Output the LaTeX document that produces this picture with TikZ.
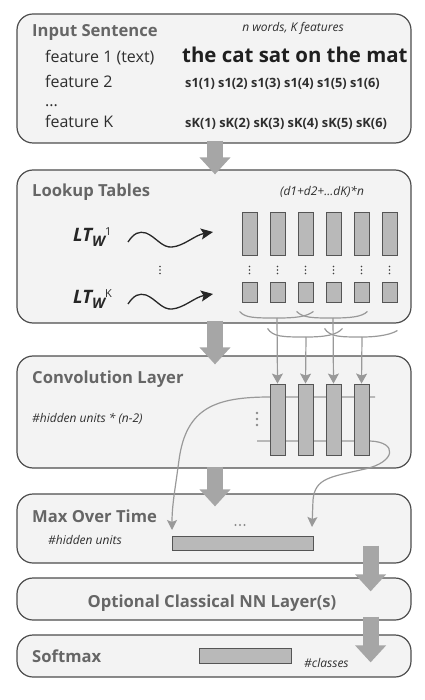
\documentclass[tikz,border=0pt]{standalone}
\usepackage{fontspec}
\setmainfont{Open Sans}
\usetikzlibrary{arrows.meta,calc}

\definecolor{boxfill}{HTML}{F3F3F3}
\definecolor{boxdraw}{HTML}{4D4D4D}
\definecolor{titlegray}{HTML}{666666}
\definecolor{textdark}{HTML}{2E2E2E}
\definecolor{cellfill}{HTML}{B9B9B9}
\definecolor{celldraw}{HTML}{555555}
\definecolor{arrowgray}{HTML}{A6A6A6}
\definecolor{linkgray}{HTML}{999999}

\newcommand{\fs}[1]{\fontsize{#1}{#1}\selectfont}

\begin{document}
\begin{tikzpicture}[x=1pt,y=-1pt,
  layer/.style={draw=boxdraw, fill=boxfill, line width=1.2pt, rounded corners=16pt,
    minimum width=394pt, inner sep=0pt},
  title/.style={font=\bfseries\fs{16.6}, text=titlegray, inner sep=0pt, anchor=base west},
  feat/.style={font=\fs{16}, text=textdark, inner sep=0pt, anchor=base west},
  note/.style={font=\itshape\fs{12}, text=textdark, inner sep=0pt},
  seq/.style={font=\bfseries\fs{12.8}, text=textdark, inner sep=0pt, anchor=base west},
  cell/.style={draw=celldraw, fill=cellfill, line width=0.9pt, minimum width=15pt, inner sep=0pt},
  vec/.style={draw=celldraw, fill=cellfill, line width=0.9pt, inner sep=0pt},
  bigarrow/.style={draw=arrowgray, line width=16pt, -{Triangle[width=30pt,length=17pt]}},
  link/.style={draw=linkgray, line width=1.2pt},
  feed/.style={link, -{Stealth[length=10pt,width=11pt,inset=2pt]}},
  wave/.style={draw=black!85, line width=1.3pt, -{Stealth[length=12pt,width=11pt,inset=2.5pt]}},
  lt/.style={font=\bfseries\itshape\fs{18.5}, text=black!85, inner sep=0pt, anchor=base west}
]
\useasboundingbox (0,0) rectangle (424,700);

% ---------- layer boxes ----------
\node[layer, minimum height=129pt] (input)  at (214,78.5) {};
\node[layer, minimum height=153pt] (lookup) at (214,246.5) {};
\node[layer, minimum height=112pt] (conv)   at (214,412) {};
\node[layer, minimum height=69pt]  (maxt)   at (214,528.5) {};
\node[layer, minimum height=42pt]  (nnl)    at (214,599) {};
\node[layer, minimum height=42pt]  (soft)   at (214,656) {};

% ---------- input sentence ----------
\node[title] (tin) at (32,37) {Input Sentence};
\node[note, anchor=base] (nin) at (293,32) {n words, K features};
\node[feat] (f1) at (45,63) {feature 1 (text)};
\node[feat] (f2) at (45,88) {feature 2};
\node[feat] (fd) at (45,107) {...};
\node[feat] (fk) at (45,128) {feature K};
\node[font=\bfseries\fs{20.4}, text=black!88, inner sep=0pt, anchor=base west] (sent) at (182,63)
  {the cat sat on the mat};
\node[seq] (s1) at (185,88) {s1(1) s1(2) s1(3) s1(4) s1(5) s1(6)};
\node[seq] (sk) at (185,128) {sK(1) sK(2) sK(3) sK(4) sK(5) sK(6)};

% ---------- lookup tables ----------
\node[title] (tlu) at (32,197) {Lookup Tables};
\node[note, anchor=base] (nlu) at (322,196) {(d1+d2+...dK)*n};

\node[lt] (lt1) at (73,242) {LT\raisebox{-5pt}{\fs{14.5}W}\raisebox{6pt}{\normalfont\fs{11}1}};
\node[lt] (ltk) at (73,303) {LT\raisebox{-5pt}{\fs{14.5}W}\raisebox{6pt}{\normalfont\fs{11}K}};

\coordinate (w1s) at (128,242);
\coordinate (w1e) at (213,232);
\coordinate (wks) at (128,304);
\coordinate (wke) at (213,294);
\draw[wave] (w1s) .. controls (134,233) and (139,231) .. (146,233)
  .. controls (156,237) and (162,248) .. (172,247)
  .. controls (184,246) and (195,235) .. (w1e);
\draw[wave] (wks) .. controls (134,295) and (139,293) .. (146,295)
  .. controls (156,299) and (162,310) .. (172,309)
  .. controls (184,308) and (195,297) .. (wke);

\foreach \y in {266.5,270,273.5} \fill[black!75] (160,\y) circle (0.9pt);

\foreach \i/\x in {1/249.5,2/277.5,3/305.5,4/333.5,5/361.5,6/389.5} {
  \node[cell, minimum height=43pt] (t\i) at (\x,233.5) {};
  \node[cell, minimum height=20pt] (b\i) at (\x,292) {};
  \foreach \y in {266.5,270,273.5} \fill[black!75] (\x,\y) circle (0.9pt);
}

% windows of three columns feeding the convolution
\coordinate (ba) at (277,318);
\coordinate (bb) at (333,318);
\coordinate (bc) at (306,337);
\coordinate (bd) at (362,337);
\draw[link] ($(b1.south west)+(-2,9)$) .. controls (245,318) and (255,318) .. (ba)
  .. controls (295,318) and (306,317) .. ($(b3.south east)+(0,9)$);
\draw[link] ($(b3.south west)+(-1,9)$) .. controls (303,318) and (313,318) .. (bb)
  .. controls (350,318) and (362,317) .. ($(b5.south east)+(-2,9)$);
\draw[link] ($(b2.south west)+(-2,26)$) .. controls (273,337) and (283,337) .. (bc)
  .. controls (325,337) and (337,335) .. ($(b4.south east)+(1,26)$);
\draw[link] ($(b4.south west)+(-1,26)$) .. controls (330,337) and (340,337) .. (bd)
  .. controls (380,337) and (392,334) .. ($(b6.south east)+(0,28)$);

% ---------- convolution layer ----------
\node[title] (tcv) at (32,383) {Convolution Layer};
\node[note, anchor=base west] (ncv) at (32,422) {\#hidden units * (n-2)};

\coordinate (tail) at (375,397);
\coordinate (cl) at (257,441);
\coordinate (ml) at (172,530);
\coordinate (mr) at (312,527);
\draw[link, -{Stealth[length=10pt,width=10pt,inset=2pt]}] (tail) -- (270,397)
  .. controls (215,397) and (186,408) .. (179,460)
  .. controls (175,490) and (172,505) .. (ml);
\draw[link, -{Stealth[length=10pt,width=10pt,inset=2pt]}] (cl) -- (370,441)
  .. controls (398,442) and (396,462) .. (365,469)
  .. controls (330,477) and (315,478) .. (313,500) -- (mr);

\foreach \i/\x in {1/277.5,2/305.5,3/333.5,4/361.5}
  \node[cell, minimum height=71pt] (c\i) at (\x,419.5) {};

\foreach \y in {413,419,425} \fill[linkgray!90!black] (257,\y) circle (1.3pt);

\draw[feed] (ba) -- (c1.north);
\draw[feed] (bc) -- (c2.north);
\draw[feed] (bb) -- (c3.north);
\draw[feed] (bd) -- (c4.north);

% ---------- max over time ----------
\node[title] (tmx) at (32,522) {Max Over Time};
\node[note, anchor=base west] (nmx) at (48,544) {\#hidden units};
\node[vec, minimum width=141pt, minimum height=14pt] (mvec) at (242.5,543) {};
\foreach \x in {235.5,240,244.5} \fill[linkgray!90!black] (\x,525) circle (1.2pt);

% ---------- optional layers and softmax ----------
\node[title, anchor=base] (tnn) at (212,607) {Optional Classical NN Layer(s)};
\node[title] (tsm) at (32,662) {Softmax};
\node[vec, minimum width=92pt, minimum height=15pt] (svec) at (245,655.5) {};
\node[note, anchor=base west] (nsm) at (304,667) {\#classes};

% ---------- flow between layers ----------
\draw[bigarrow] ($(input.south)+(1,-3)$) -- ($(lookup.north)+(1,5)$);
\draw[bigarrow] ($(lookup.south)+(1,-3)$) -- ($(conv.north)+(1,9)$);
\draw[bigarrow] ($(conv.south)+(1,-2)$) -- ($(maxt.north)+(1,13)$);
\draw[bigarrow] ($(maxt.south east)+(-41,-18)$) -- ($(nnl.north east)+(-41,14)$);
\draw[bigarrow] ($(nnl.south east)+(-41,-4)$) -- ($(soft.north east)+(-41,28)$);
\end{tikzpicture}
\end{document}
